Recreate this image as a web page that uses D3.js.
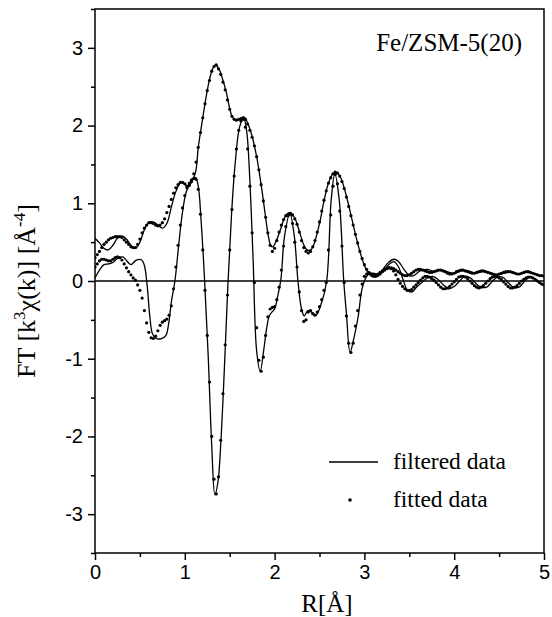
<!DOCTYPE html>
<html><head><meta charset="utf-8">
<script src="https://cdn.jsdelivr.net/npm/d3@7"></script>
<style>body{margin:0;background:#fff}svg{display:block}</style>
</head><body>
<svg id="c" width="552" height="617"></svg>
<script>
// ---------- data ----------
const xTicks = [0, 1, 2, 3, 4, 5];
const xMinor = [0.5, 1.5, 2.5, 3.5, 4.5];
const yTicks = [-3, -2, -1, 0, 1, 2, 3];
const yMinor = [-3.5, -2.5, -1.5, -0.5, 0.5, 1.5, 2.5, 3.5];

// filtered data: |FT| (magnitude)
const filtMagR = [0.00,0.05,0.10,0.15,0.20,0.25,0.30,0.35,0.40,0.45,0.50,0.55,0.60,0.65,0.70,0.75,0.80,0.85,0.90,0.95,1.00,1.03,1.07,1.12,1.15,1.20,1.25,1.30,1.34,1.38,1.42,1.46,1.50,1.53,1.57,1.62,1.66,1.70,1.75,1.80,1.85,1.90,1.93,1.96,1.98,2.02,2.07,2.12,2.17,2.22,2.27,2.32,2.36,2.40,2.44,2.50,2.55,2.60,2.65,2.69,2.74,2.80,2.85,2.90,2.95,3.00,3.05,3.10,3.15,3.20,3.27,3.33,3.38,3.44,3.50,3.55,3.62,3.70,3.78,3.85,3.92,4.00,4.08,4.16,4.24,4.32,4.40,4.48,4.56,4.64,4.72,4.80,4.88,4.96,5.00];
const filtMag = [0.55,0.49,0.42,0.40,0.46,0.55,0.58,0.54,0.46,0.42,0.50,0.66,0.75,0.76,0.72,0.68,0.74,0.95,1.15,1.26,1.25,1.21,1.26,1.40,1.72,2.10,2.45,2.70,2.78,2.73,2.60,2.44,2.22,2.11,2.07,2.09,2.11,2.03,1.86,1.60,1.24,0.82,0.58,0.45,0.44,0.52,0.68,0.83,0.88,0.82,0.66,0.48,0.40,0.40,0.48,0.74,1.03,1.26,1.38,1.40,1.32,1.09,0.85,0.60,0.38,0.20,0.09,0.05,0.07,0.14,0.24,0.28,0.25,0.15,0.07,0.07,0.13,0.15,0.12,0.14,0.12,0.10,0.13,0.13,0.10,0.12,0.11,0.08,0.10,0.12,0.09,0.11,0.10,0.07,0.06];

// filtered data: Im(FT)
const filtImR = [0.00,0.05,0.10,0.15,0.20,0.25,0.31,0.36,0.40,0.46,0.52,0.55,0.58,0.61,0.64,0.68,0.74,0.79,0.82,0.85,0.89,0.93,0.97,1.01,1.05,1.09,1.12,1.15,1.18,1.22,1.26,1.30,1.335,1.37,1.40,1.44,1.48,1.52,1.56,1.61,1.655,1.69,1.72,1.76,1.80,1.84,1.88,1.91,1.94,1.97,2.00,2.03,2.07,2.11,2.17,2.22,2.26,2.30,2.33,2.37,2.41,2.46,2.52,2.58,2.63,2.67,2.72,2.77,2.80,2.84,2.88,2.93,2.98,3.04,3.10,3.16,3.22,3.28,3.33,3.38,3.43,3.48,3.53,3.58,3.64,3.70,3.76,3.82,3.88,3.94,4.00,4.06,4.12,4.18,4.24,4.30,4.36,4.42,4.48,4.54,4.60,4.66,4.72,4.78,4.84,4.90,4.96,5.00];
const filtIm = [0.04,0.14,0.21,0.22,0.24,0.29,0.31,0.25,0.21,0.27,0.27,0.20,-0.05,-0.45,-0.68,-0.74,-0.74,-0.70,-0.55,-0.27,0.00,0.44,0.85,1.12,1.25,1.31,1.33,1.22,0.80,0.02,-0.95,-2.12,-2.75,-2.58,-2.10,-1.15,-0.05,0.85,1.50,1.98,2.10,1.92,1.40,0.30,-0.90,-1.16,-0.88,-0.62,-0.45,-0.40,-0.36,-0.22,0.02,0.57,0.87,0.57,0.00,-0.36,-0.45,-0.38,-0.40,-0.44,-0.29,0.00,1.04,1.38,1.04,0.00,-0.42,-0.92,-0.75,-0.46,-0.07,0.08,0.10,0.08,0.14,0.22,0.25,0.18,0.02,-0.12,-0.14,-0.08,-0.02,0.04,0.06,0.02,-0.05,-0.10,-0.07,0.00,0.06,0.04,-0.03,-0.08,-0.08,-0.01,0.05,0.05,-0.02,-0.08,-0.08,-0.01,0.05,0.03,-0.03,-0.05];

// fitted data, sampled every 0.025 Å from R = 0 to 5
const fitStep = 0.025;
const fitMag = [0.30,0.34,0.38,0.43,0.47,0.50,0.53,0.55,0.56,0.57,0.57,0.57,0.56,0.53,0.50,0.47,0.44,0.43,0.43,0.47,
0.54,0.62,0.68,0.72,0.75,0.75,0.74,0.72,0.71,0.72,0.75,0.80,0.88,0.96,1.05,1.13,1.20,1.24,1.27,1.27,
1.25,1.22,1.23,1.28,1.38,1.53,1.72,1.91,2.10,2.28,2.45,2.58,2.70,2.76,2.78,2.73,2.66,2.56,2.46,2.33,
2.21,2.12,2.08,2.07,2.08,2.09,2.10,2.08,2.02,1.94,1.85,1.74,1.60,1.43,1.24,1.03,0.82,0.62,0.46,0.38,
0.42,0.52,0.63,0.72,0.79,0.84,0.86,0.87,0.85,0.80,0.73,0.63,0.52,0.43,0.38,0.36,0.38,0.44,0.52,0.63,
0.76,0.90,1.04,1.16,1.26,1.33,1.38,1.40,1.39,1.35,1.28,1.19,1.08,0.96,0.84,0.72,0.60,0.49,0.38,0.29,
0.21,0.15,0.11,0.09,0.08,0.08,0.09,0.11,0.13,0.15,0.16,0.17,0.17,0.16,0.14,0.12,0.10,0.08,0.07,0.07,
0.08,0.10,0.12,0.14,0.15,0.15,0.14,0.13,0.12,0.11,0.11,0.12,0.13,0.14,0.14,0.13,0.12,0.10,0.09,0.09,
0.10,0.12,0.13,0.14,0.14,0.13,0.12,0.11,0.10,0.10,0.11,0.12,0.13,0.13,0.12,0.11,0.10,0.09,0.08,0.08,
0.09,0.10,0.11,0.12,0.12,0.12,0.11,0.10,0.09,0.09,0.10,0.11,0.12,0.12,0.11,0.10,0.09,0.08,0.07,0.07,
0.06];
const fitIm = [0.18,0.22,0.26,0.28,0.28,0.27,0.26,0.26,0.28,0.30,0.31,0.30,0.27,0.22,0.17,0.12,0.08,0.04,0.01,-0.05,
-0.12,-0.22,-0.38,-0.54,-0.66,-0.73,-0.74,-0.71,-0.64,-0.57,-0.53,-0.51,-0.49,-0.44,-0.32,-0.10,0.18,0.46,0.72,0.94,
1.10,1.20,1.26,1.30,1.32,1.31,1.18,0.86,0.40,-0.12,-0.70,-1.30,-2.00,-2.55,-2.74,-2.52,-2.05,-1.45,-0.82,-0.18,
0.40,0.92,1.35,1.70,1.94,2.06,2.08,1.98,1.70,1.22,0.62,-0.02,-0.60,-1.02,-1.16,-0.98,-0.70,-0.46,-0.36,-0.34,
-0.33,-0.24,-0.08,0.14,0.45,0.70,0.84,0.86,0.74,0.50,0.18,-0.14,-0.38,-0.52,-0.50,-0.40,-0.38,-0.42,-0.44,-0.40,
-0.33,-0.24,-0.12,-0.02,0.40,0.85,1.22,1.37,1.25,0.90,0.45,-0.02,-0.45,-0.80,-0.92,-0.80,-0.58,-0.38,-0.18,-0.04,
0.06,0.09,0.10,0.09,0.07,0.06,0.07,0.09,0.12,0.14,0.16,0.17,0.16,0.13,0.08,0.02,-0.03,-0.07,-0.10,-0.12,
-0.12,-0.11,-0.08,-0.05,-0.02,0.01,0.04,0.06,0.06,0.05,0.03,0.01,-0.02,-0.05,-0.08,-0.10,-0.10,-0.09,-0.07,-0.04,
-0.01,0.02,0.05,0.06,0.06,0.05,0.03,0.00,-0.03,-0.06,-0.08,-0.09,-0.08,-0.06,-0.03,0.00,0.03,0.05,0.06,0.06,
0.04,0.02,-0.01,-0.04,-0.07,-0.09,-0.09,-0.08,-0.06,-0.03,0.00,0.02,0.04,0.05,0.05,0.04,0.02,0.00,-0.02,-0.04,
-0.05];

const titleText = "Fe/ZSM-5(20)";
const legendLabels = ["filtered data", "fitted data"];

// ---------- layout ----------
const svg = d3.select("#c");
const L = 95, R = 544, T = 9, B = 553;
const x = d3.scaleLinear().domain([0, 5]).range([L, R]);
const y = d3.scaleLinear().domain([-3.5, 3.5]).range([B, T]);
const fmt = d => (d < 0 ? "-" + Math.abs(d) : String(d));
const sans = "'Liberation Sans', Arial, sans-serif";
const serif = "'Liberation Serif', 'Times New Roman', serif";

svg.append("clipPath").attr("id", "clip").append("rect")
  .attr("x", L).attr("y", T).attr("width", R - L).attr("height", B - T);

// zero line
svg.append("line").attr("x1", L).attr("x2", R).attr("y1", y(0)).attr("y2", y(0))
  .attr("stroke", "#000").attr("stroke-width", 1.4);

const g = svg.append("g").attr("clip-path", "url(#clip)");
const line = d3.line().curve(d3.curveCatmullRom.alpha(0.5));

g.append("path").attr("d", line(filtMagR.map((r, i) => [x(r), y(filtMag[i])])))
  .attr("fill", "none").attr("stroke", "#000").attr("stroke-width", 1.3);
g.append("path").attr("d", line(filtImR.map((r, i) => [x(r), y(filtIm[i])])))
  .attr("fill", "none").attr("stroke", "#000").attr("stroke-width", 1.3);

const dotR = 1.6;
g.selectAll("circle.fm").data(fitMag).join("circle").attr("class", "fm")
  .attr("cx", (d, i) => x(i * fitStep)).attr("cy", d => y(d)).attr("r", dotR).attr("fill", "#000");
g.selectAll("circle.fi").data(fitIm).join("circle").attr("class", "fi")
  .attr("cx", (d, i) => x(i * fitStep)).attr("cy", d => y(d)).attr("r", dotR).attr("fill", "#000");

// frame
svg.append("rect").attr("x", L).attr("y", T).attr("width", R - L).attr("height", B - T)
  .attr("fill", "none").attr("stroke", "#000").attr("stroke-width", 1.5);

// axes
const xAx = svg.append("g").attr("transform", `translate(0,${B})`)
  .call(d3.axisBottom(x).tickValues(xTicks).tickSize(7).tickPadding(5).tickFormat(fmt));
const xAxm = svg.append("g").attr("transform", `translate(0,${B})`)
  .call(d3.axisBottom(x).tickValues(xMinor).tickSize(4).tickFormat(""));
const yAx = svg.append("g").attr("transform", `translate(${L},0)`)
  .call(d3.axisLeft(y).tickValues(yTicks).tickSize(7).tickPadding(5).tickFormat(fmt));
const yAxm = svg.append("g").attr("transform", `translate(${L},0)`)
  .call(d3.axisLeft(y).tickValues(yMinor).tickSize(4).tickFormat(""));
[xAx, xAxm, yAx, yAxm].forEach(a => {
  a.select(".domain").remove();
  a.selectAll("line").attr("stroke", "#000").attr("stroke-width", 1.5);
  a.selectAll("text").attr("font-family", sans).attr("font-size", 20).attr("fill", "#000");
});

// axis titles
svg.append("text").attr("x", 327).attr("y", 612).attr("text-anchor", "middle")
  .attr("font-family", serif).attr("font-size", 25).text("R[Å]");

const yt = svg.append("text").attr("transform", `translate(35,291) rotate(-90)`)
  .attr("text-anchor", "middle").attr("font-family", serif).attr("font-size", 26);
yt.append("tspan").text("FT [k");
yt.append("tspan").attr("dy", -10).attr("font-size", 17).text("3");
yt.append("tspan").attr("dy", 10).text("χ(k)] [Å");
yt.append("tspan").attr("dy", -10).attr("font-size", 17).text("-4");
yt.append("tspan").attr("dy", 10).text("]");

// title
svg.append("text").attr("x", 522).attr("y", 51).attr("text-anchor", "end")
  .attr("font-family", serif).attr("font-size", 25).text(titleText);

// legend
svg.append("line").attr("x1", 329).attr("x2", 378).attr("y1", 462).attr("y2", 462)
  .attr("stroke", "#000").attr("stroke-width", 1.5);
svg.append("text").attr("x", 393).attr("y", 469).attr("font-family", serif).attr("font-size", 23.5).text(legendLabels[0]);
svg.append("circle").attr("cx", 350).attr("cy", 500).attr("r", 1.8).attr("fill", "#000");
svg.append("text").attr("x", 393).attr("y", 507).attr("font-family", serif).attr("font-size", 23.5).text(legendLabels[1]);
</script>
</body></html>
